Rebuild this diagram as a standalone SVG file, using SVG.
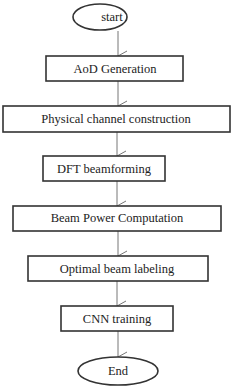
<svg xmlns="http://www.w3.org/2000/svg" width="233" height="389" viewBox="0 0 233 389">
<defs>
<style>
.box{fill:#fff;stroke:#333;stroke-width:1.6}
.t{font-family:"Liberation Serif","Times New Roman",serif;font-size:12.5px;fill:#222;text-anchor:middle}
.c{stroke:#777;stroke-width:1;fill:none}
</style>
<marker id="ah" markerWidth="12" markerHeight="12" refX="6" refY="10" orient="auto-start-reverse" markerUnits="userSpaceOnUse" viewBox="0 0 12 12">
<path d="M1,1 L6,10 L11,1" fill="none" stroke="#777" stroke-width="1"/>
</marker>
</defs>
<rect width="233" height="389" fill="#fff"/>
<g id="connectors">
<line class="c" x1="118" y1="31" x2="118" y2="56" marker-end="url(#ah)"/>
<line class="c" x1="118" y1="81" x2="118" y2="106" marker-end="url(#ah)"/>
<line class="c" x1="117" y1="132" x2="117" y2="156" marker-end="url(#ah)"/>
<line class="c" x1="117" y1="181" x2="117" y2="206" marker-end="url(#ah)"/>
<line class="c" x1="118" y1="231" x2="118" y2="256" marker-end="url(#ah)"/>
<line class="c" x1="117" y1="281" x2="117" y2="306" marker-end="url(#ah)"/>
<line class="c" x1="118" y1="331" x2="118" y2="357" marker-end="url(#ah)"/>
</g>
<g id="start">
<ellipse class="box" cx="100" cy="17" rx="27" ry="13"/>
<text class="t" x="112" y="21" font-family="Liberation Serif, serif">start</text>
</g>
<g id="aod">
<rect class="box" x="46" y="56" width="137" height="25"/>
<text class="t" x="115" y="73" font-family="Liberation Serif, serif">AoD Generation</text>
</g>
<g id="physical">
<rect class="box" x="3" y="106" width="227" height="26"/>
<text class="t" x="116" y="123" font-family="Liberation Serif, serif">Physical channel construction</text>
</g>
<g id="dft">
<rect class="box" x="43" y="156" width="122" height="25"/>
<text class="t" x="104" y="173" font-family="Liberation Serif, serif">DFT beamforming</text>
</g>
<g id="power">
<rect class="box" x="13" y="206" width="208" height="25"/>
<text class="t" x="117" y="222" font-family="Liberation Serif, serif">Beam Power Computation</text>
</g>
<g id="optimal">
<rect class="box" x="28" y="256" width="180" height="25"/>
<text class="t" x="117" y="273" font-family="Liberation Serif, serif">Optimal beam labeling</text>
</g>
<g id="cnn">
<rect class="box" x="61" y="306" width="112" height="25"/>
<text class="t" x="117" y="323" font-family="Liberation Serif, serif">CNN training</text>
</g>
<g id="end">
<ellipse class="box" cx="118" cy="371" rx="40" ry="14"/>
<text class="t" x="118" y="375" font-family="Liberation Serif, serif">End</text>
</g>
</svg>
